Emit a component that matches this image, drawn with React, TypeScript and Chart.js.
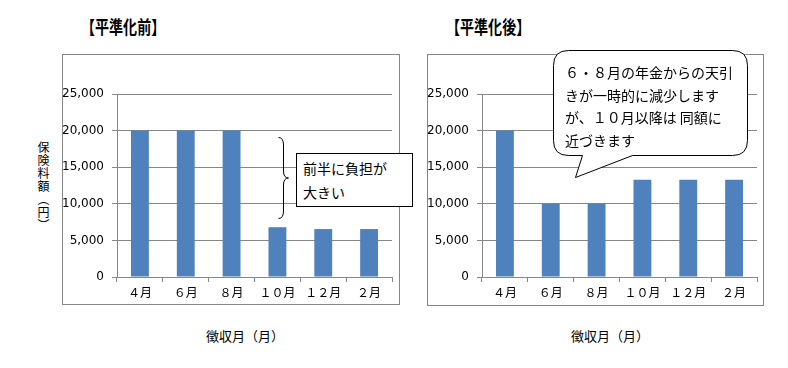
import React, { useEffect, useRef } from "react";
import { Chart, registerables } from "chart.js";

Chart.register(...registerables);

const categories = ["４月", "６月", "８月", "１０月", "１２月", "２月"];
const beforeValues = [20000, 20000, 20000, 6800, 6550, 6550];
const afterValues = [20000, 10000, 10000, 13300, 13300, 13300];
const yTicks = [0, 5000, 10000, 15000, 20000, 25000];

const BAR = "#4F81BD";
const GRID = "#868686";
const JP = '"Noto Sans CJK JP", "Noto Sans", sans-serif';

function BarChart(props: { values: number[]; left: number; top: number; width: number; height: number; axisW: number; padTop: number; padRight: number; xH: number }) {
  const ref = useRef<HTMLCanvasElement | null>(null);
  useEffect(() => {
    if (!ref.current) return;
    const chart = new Chart(ref.current, {
      type: "bar",
      data: {
        labels: categories,
        datasets: [
          {
            data: props.values,
            backgroundColor: BAR,
            borderWidth: 0,
            barPercentage: 0.39,
            categoryPercentage: 1,
          },
        ],
      },
      options: {
        animation: false,
        responsive: false,
        maintainAspectRatio: false,
        events: [],
        layout: { padding: { top: props.padTop, right: props.padRight, left: 0, bottom: 0 } },
        plugins: { legend: { display: false }, tooltip: { enabled: false }, title: { display: false } },
        scales: {
          x: {
            afterFit: (s: any) => {
              s.height = props.xH;
            },
            grid: { display: true, drawOnChartArea: false, drawTicks: true, tickLength: 5, color: GRID, offset: true },
            border: { display: true, color: GRID, width: 1 },
            ticks: { color: "#000", font: { family: JP, size: 12 }, padding: 3, maxRotation: 0, autoSkip: false },
          },
          y: {
            min: 0,
            max: 25000,
            afterFit: (s: any) => {
              s.width = props.axisW;
            },
            afterBuildTicks: (s: any) => {
              s.ticks = yTicks.map((v) => ({ value: v }));
            },
            grid: { color: GRID, lineWidth: 1, drawTicks: true, tickLength: 5 },
            border: { display: true, color: GRID, width: 1 },
            ticks: {
              color: "#000",
              font: { family: '"DejaVu Sans", sans-serif', size: 12 },
              padding: 8,
              callback: (v: any) => Number(v).toLocaleString("en-US"),
            },
          },
        },
      },
    });
    return () => chart.destroy();
  }, []);
  return (
    <div
      style={{
        position: "absolute",
        left: props.left,
        top: props.top,
        width: props.width,
        height: props.height,
        border: `1px solid ${GRID}`,
        background: "#fff",
      }}
    >
      <canvas ref={ref} width={props.width} height={props.height} style={{ display: "block", width: props.width, height: props.height }} />
    </div>
  );
}

const abs = (o: React.CSSProperties): React.CSSProperties => ({ position: "absolute", whiteSpace: "nowrap", color: "#000", fontFamily: JP, ...o });

export default function App() {
  return (
    <div style={{ position: "absolute", left: 0, top: 0, width: 788, height: 368, background: "#fff", overflow: "hidden" }}>
      <div style={abs({ left: 81, top: 13, fontSize: 18, fontWeight: "bold", transform: "scaleX(0.78)", transformOrigin: "left top" })}>【平準化前】</div>
      <div style={abs({ left: 446, top: 13, fontSize: 18, fontWeight: "bold", transform: "scaleX(0.78)", transformOrigin: "left top" })}>【平準化後】</div>

      <BarChart values={beforeValues} left={62} top={54} width={336} height={249} axisW={54} padTop={39} padRight={7} xH={27} />
      <BarChart values={afterValues} left={427} top={54} width={335} height={250} axisW={54} padTop={39} padRight={6} xH={28} />

      <div style={abs({ left: 36, top: 141, fontSize: 12, writingMode: "vertical-rl", lineHeight: "14px", letterSpacing: "1px" })}>保険料額（円）</div>

      <div style={abs({ left: 245, top: 326, fontSize: 13, transform: "translateX(-50%)" })}>徴収月（月）</div>
      <div style={abs({ left: 610, top: 326, fontSize: 13, transform: "translateX(-50%)" })}>徴収月（月）</div>

      <svg width={788} height={368} style={{ position: "absolute", left: 0, top: 0 }}>
        <path
          d="M278.5,137.5 Q283.5,137.5 283.5,145 L283.5,171 Q283.5,178 288.5,178 Q283.5,178 283.5,185 L283.5,211 Q283.5,218.5 278.5,218.5"
          fill="none"
          stroke="#000"
          strokeWidth={1}
        />
        <rect x={296.5} y={153.5} width={116} height={53} fill="#fff" stroke="#000" strokeWidth={1} />
        <path
          d="M568.5,50.5 L732.5,50.5 Q747.5,50.5 747.5,65.5 L747.5,140.5 Q747.5,155.5 732.5,155.5 L632.5,155.5 L575.5,177.5 L582.5,155.5 L568.5,155.5 Q553.5,155.5 553.5,140.5 L553.5,65.5 Q553.5,50.5 568.5,50.5 Z"
          fill="#fff"
          stroke="#000"
          strokeWidth={1}
        />
      </svg>

      <div style={abs({ left: 303, top: 156, fontSize: 14, lineHeight: "24px" })}>
        前半に負担が
        <br />
        大きい
      </div>
      <div style={abs({ left: 565, top: 61, fontSize: 14, lineHeight: "22.5px" })}>
        ６・８月の年金からの天引
        <br />
        きが一時的に減少します
        <br />
        が、１０月以降は 同額に
        <br />
        近づきます
      </div>
    </div>
  );
}
